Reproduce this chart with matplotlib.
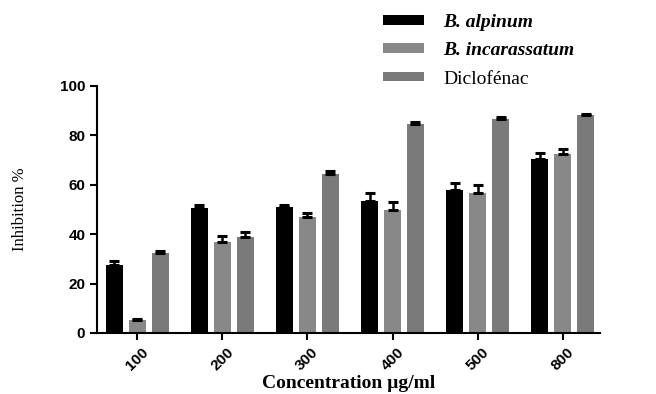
import matplotlib.pyplot as plt
import numpy as np

# data
concentrations = ['100', '200', '300', '400', '500', '800']
alpinum = [27.5, 50.7, 51.1, 53.6, 57.9, 70.3]
alpinum_err = [1.8, 1.0, 0.8, 3.0, 2.7, 2.4]
incarassatum = [5.3, 36.7, 46.8, 49.8, 56.6, 72.3]
incarassatum_err = [0.5, 2.7, 1.7, 3.0, 3.3, 2.0]
diclofenac = [32.3, 39.0, 64.5, 84.5, 86.8, 88.1]
diclofenac_err = [1.0, 1.8, 1.0, 0.9, 0.6, 0.6]

series = [
    (alpinum, alpinum_err, '#000000', 'B. alpinum', 'italic'),
    (incarassatum, incarassatum_err, '#888888', 'B. incarassatum', 'italic'),
    (diclofenac, diclofenac_err, '#7a7a7a', 'Diclofénac', 'normal'),
]

fig = plt.figure(figsize=(6.56, 3.94), dpi=100)
ax = fig.add_axes([0.148, 0.155, 0.767, 0.627])

x = np.arange(len(concentrations))
width = 0.2
offset = 0.27

handles = []
for i, (vals, errs, col, lab, style) in enumerate(series):
    pos = x + (i - 1) * offset
    b = ax.bar(pos, vals, width, color=col, label=lab)
    ax.errorbar(pos, vals, yerr=[np.zeros(len(errs)), errs], fmt='none',
                ecolor='black', elinewidth=1.8, capsize=3.5, capthick=2.2)
    handles.append(b)

ax.set_xlim(-0.47, 5.44)
ax.set_ylim(0, 100)
ax.set_yticks([0, 20, 40, 60, 80, 100])
ax.set_xticks(x)
ax.set_xticklabels(concentrations, rotation=45, ha='center', va='top')
for lbl in ax.get_xticklabels() + ax.get_yticklabels():
    lbl.set_fontweight('bold')
    lbl.set_fontsize(11)
    lbl.set_family('Liberation Sans')

ax.spines['top'].set_visible(False)
ax.spines['right'].set_visible(False)
ax.spines['left'].set_linewidth(1.5)
ax.spines['bottom'].set_linewidth(1.5)
ax.tick_params(width=1.5, length=5, direction='out')

ax.set_xlabel('Concentration µg/ml', family='Liberation Serif', fontweight='bold',
              fontsize=14, labelpad=2)
ax.set_ylabel('Inhibition %', family='Liberation Serif', fontsize=12, labelpad=23)

leg = fig.legend(handles=handles, loc='upper left', bbox_to_anchor=(0.557, 1.009),
                 frameon=False, handlelength=2.1, handleheight=0.4,
                 labelspacing=0.58, handletextpad=1.0,
                 prop={'family': 'Liberation Serif', 'size': 14})
for t, s in zip(leg.get_texts(), series):
    t.set_fontstyle(s[4])
    if s[4] == 'italic':
        t.set_fontweight('bold')

fig.savefig('out.png', dpi=100)
